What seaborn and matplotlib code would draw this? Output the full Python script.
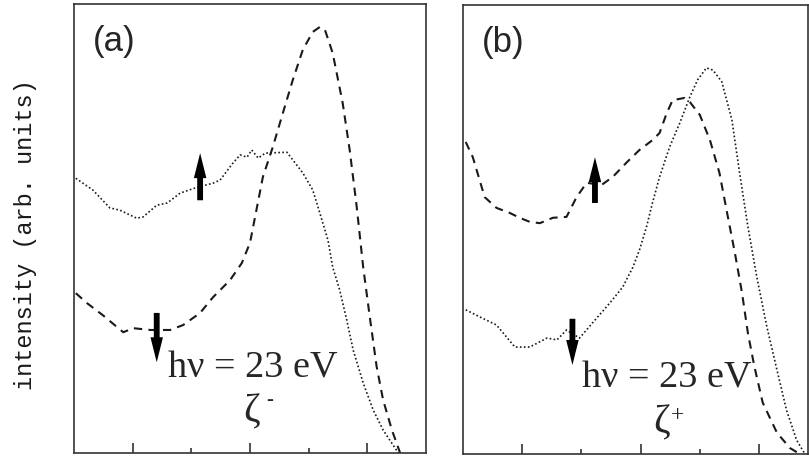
import numpy as np
import pandas as pd
import matplotlib.pyplot as plt
import seaborn as sns

# Panel (a): dotted = spin up, dashed = spin down
a_up_x = [0.03, 0.32, 0.61, 0.78, 1.07, 1.18, 1.41, 1.59, 1.81, 2.10, 2.37, 2.49, 2.71, 2.83,
          2.95, 3.03, 3.14, 3.26, 3.63, 3.73, 3.90, 4.07, 4.19, 4.33, 4.41, 4.53, 4.65, 4.76,
          4.93, 5.10, 5.27, 5.53]
a_up_y = [61.2, 58.6, 54.6, 54.1, 52.3, 52.6, 55.2, 55.7, 57.9, 59.2, 60.1, 60.8, 64.6, 66.4,
          65.9, 67.5, 65.7, 66.8, 67.0, 65.3, 62.4, 58.6, 53.5, 47.4, 41.4, 36.3, 29.6, 22.9,
          15.6, 9.6, 5.1, 0.0]
a_down_x = [0.03, 0.22, 0.49, 0.84, 1.01, 1.30, 1.64, 1.86, 2.15, 2.37, 2.66, 2.86, 3.00, 3.12,
            3.22, 3.39, 3.56, 3.73, 3.90, 4.07, 4.19, 4.28, 4.41, 4.58, 4.70, 4.82, 4.93, 5.05,
            5.16, 5.27, 5.42, 5.56]
a_down_y = [35.6, 33.4, 30.7, 26.9, 27.8, 27.4, 27.4, 28.5, 31.2, 34.7, 38.5, 42.3, 46.8, 54.8,
            61.5, 68.2, 75.7, 83.1, 89.8, 93.8, 94.9, 94.2, 89.1, 78.0, 67.5, 54.8, 41.4, 29.6,
            19.2, 11.8, 5.1, 0.0]

# Panel (b): dashed = spin up, dotted = spin down
b_up_x = [0.05, 0.17, 0.37, 0.57, 0.79, 0.96, 1.13, 1.30, 1.52, 1.75, 1.92, 2.09, 2.34, 2.53,
          2.77, 2.98, 3.20, 3.32, 3.44, 3.54, 3.74, 3.83, 4.00, 4.17, 4.33, 4.45, 4.59, 4.71,
          4.81, 4.92, 5.06, 5.30, 5.52, 5.68]
b_up_y = [69.5, 66.1, 57.2, 54.8, 53.7, 52.6, 51.7, 51.4, 52.6, 52.8, 57.2, 60.4, 59.9, 61.7,
          65.0, 67.7, 69.9, 71.5, 75.9, 78.8, 79.3, 78.4, 75.5, 69.9, 62.6, 54.3, 44.8, 35.9,
          26.9, 19.4, 11.4, 4.7, 1.3, 0.0]
b_down_x = [0.05, 0.29, 0.57, 0.88, 1.13, 1.42, 1.59, 1.75, 1.97, 2.19, 2.48, 2.70, 2.87, 2.98,
            3.10, 3.20, 3.32, 3.49, 3.66, 3.83, 3.96, 4.11, 4.22, 4.37, 4.54, 4.67, 4.81, 4.96,
            5.13, 5.30, 5.46, 5.63, 5.77]
b_down_y = [32.1, 30.5, 28.7, 23.8, 23.8, 25.8, 25.4, 27.6, 25.8, 29.2, 33.6, 37.2, 41.6, 45.4,
            50.6, 55.9, 61.7, 68.4, 73.7, 79.5, 83.3, 86.0, 85.5, 82.9, 74.4, 62.6, 50.6, 39.4,
            28.3, 18.7, 9.8, 3.1, 0.0]

panel_labels = ["(a)", "(b)"]
zeta_signs = ["-", "+"]
energy_label = "h\u03bd = 23 eV"

sns.set_style("ticks")
plt.rcParams["font.family"] = ["Liberation Sans", "DejaVu Sans"]

fig = plt.figure(figsize=(8.09, 4.58), dpi=100)
ax_a = fig.add_axes([0.0915, 0.011, 0.435, 0.980])
ax_b = fig.add_axes([0.572, 0.009, 0.4265, 0.980])

dash = (0, (4, 3))
dot = (0, (1, 1.4))

panels = [
    (ax_a, a_up_x, a_up_y, dot, a_down_x, a_down_y, dash, 6.0),
    (ax_b, b_up_x, b_up_y, dash, b_down_x, b_down_y, dot, 5.82),
]

for ax, ux, uy, ustyle, dx, dy, dstyle, xmax in panels:
    up = pd.DataFrame({"x": ux, "y": uy})
    down = pd.DataFrame({"x": dx, "y": dy})
    sns.lineplot(data=up, x="x", y="y", ax=ax, color="#1a1a1a", estimator=None,
                 linestyle=ustyle, lw=1.5 if ustyle == dash else 1.2)
    sns.lineplot(data=down, x="x", y="y", ax=ax, color="#1a1a1a", estimator=None,
                 linestyle=dstyle, lw=1.5 if dstyle == dash else 1.2)
    ax.set_xlim(0, xmax)
    ax.set_ylim(0, 100)
    ax.set_xlabel("")
    ax.set_ylabel("")
    ax.set_xticks([1, 3, 5])
    ax.set_xticks([2, 4], minor=True)
    ax.set_yticks([])
    ax.tick_params(axis="x", which="major", direction="in", length=7, width=1.2,
                   labelbottom=False, color="#333333")
    ax.tick_params(axis="x", which="minor", direction="in", length=3.5, width=1.2,
                   color="#333333")
    for s in ax.spines.values():
        s.set_visible(True)
        s.set_linewidth(1.2)
        s.set_color("#333333")

arrow = dict(arrowstyle="simple,head_length=1.8,head_width=0.9,tail_width=0.42",
             color="black", lw=0, shrinkA=0, shrinkB=0, mutation_scale=10)
# spin arrows
ax_a.annotate("", xy=(2.15, 66.8), xytext=(2.15, 56.3), arrowprops=arrow)
ax_a.annotate("", xy=(1.41, 20.2), xytext=(1.41, 31.2), arrowprops=arrow)
ax_b.annotate("", xy=(2.23, 66.1), xytext=(2.23, 55.9), arrowprops=arrow)
ax_b.annotate("", xy=(1.85, 19.8), xytext=(1.85, 30.1), arrowprops=arrow)

ax_a.text(0.32, 95.3, panel_labels[0], fontsize=25, va="top", ha="left")
ax_b.text(0.32, 95.3, panel_labels[1], fontsize=25, va="top", ha="left")

ax_a.text(1.60, 16.9, energy_label, fontsize=27.5, family="Liberation Serif",
          va="baseline", ha="left")
ax_b.text(2.01, 14.9, energy_label, fontsize=27.5, family="Liberation Serif",
          va="baseline", ha="left")

ax_a.text(3.03, 9.2, "\u03b6", fontsize=29, family="Liberation Serif", ha="center", va="center")
ax_a.text(3.33, 11.6, zeta_signs[0], fontsize=15, family="Liberation Serif", ha="center", va="center")
ax_b.text(3.36, 6.9, "\u03b6", fontsize=29, family="Liberation Serif", ha="center", va="center")
ax_b.text(3.63, 8.6, zeta_signs[1], fontsize=17, family="Liberation Serif", ha="center", va="center")

fig.text(26 / 809, 1 - 235 / 458, "intensity (arb. units)", rotation=90,
         fontsize=17, family="Liberation Mono", color="#1a1a1a",
         ha="center", va="center")

fig.savefig("out.png", dpi=100)
